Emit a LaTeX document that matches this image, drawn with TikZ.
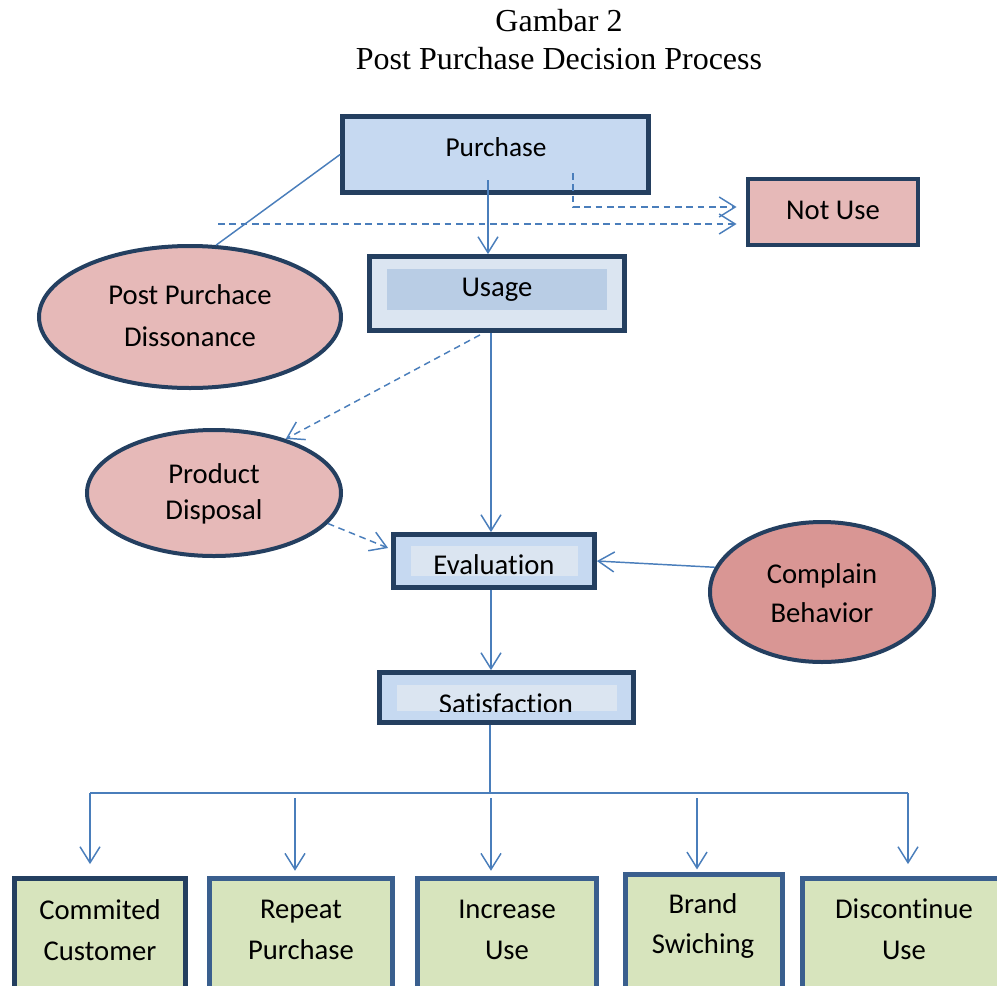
\documentclass[tikz,border=0pt]{standalone}
\usepackage{fontspec}
\setmainfont{Liberation Serif}
\newfontfamily\boxfont[Ligatures=NoCommon]{Carlito}
\usetikzlibrary{arrows.meta,shapes.geometric,calc}
\definecolor{lineblue}{HTML}{4A7EBB}
\definecolor{darkborder}{HTML}{243F60}
\definecolor{midborder}{HTML}{3A5F8E}
\definecolor{bluefill}{HTML}{C6D9F1}
\definecolor{palefill}{HTML}{DBE5F1}
\definecolor{deepfill}{HTML}{B9CDE5}
\definecolor{pinkfill}{HTML}{E6B9B8}
\definecolor{rosefill}{HTML}{D99694}
\definecolor{greenfill}{HTML}{D7E4BD}
\begin{document}
\begin{tikzpicture}[x=0.75pt,y=-0.75pt,
  titletext/.style={font=\fontsize{24}{28}\selectfont, inner sep=0pt},
  lbl/.style={font=\boxfont\fontsize{21.5}{30.5}\selectfont, align=center, inner sep=0pt},
  mainbox/.style={draw=darkborder, line width=3.6pt, rectangle, inner sep=0pt},
  innerbox/.style={rectangle, inner sep=0pt, draw=none},
  oval/.style={draw=darkborder, line width=3pt, ellipse, inner sep=0pt, fill=pinkfill},
  endbox/.style={draw=midborder, line width=3.6pt, rectangle, inner sep=0pt, fill=greenfill},
  conn/.style={draw=lineblue, line width=1.1pt},
  arr/.style={conn, -{Straight Barb[length=12pt,width=15pt,line width=1.1pt]}},
  dasharr/.style={arr, dash pattern=on 5pt off 3.5pt}
]
\useasboundingbox (0,0) rectangle (997,986);
\clip (0,0) rectangle (997,986);

% title
\node[titletext] (t1) at (559,21) {Gambar 2};
\node[titletext] (t2) at (559,59) {Post Purchase Decision Process};

% Purchase
\node[mainbox, fill=bluefill, minimum width=306*0.75pt, minimum height=76*0.75pt] (purchase) at (495.5,154.5) {};
\node[lbl, font=\boxfont\fontsize{20.5}{28}\selectfont] (purchasetxt) at (496,147) {Purchase};

% Not Use
\node[mainbox, line width=3.2pt, fill=pinkfill, minimum width=170*0.75pt, minimum height=66*0.75pt] (notuse) at (833,212) {};
\node[lbl] (notusetxt) at (833,210) {Not Use};

% Usage
\node[mainbox, fill=palefill, minimum width=255*0.75pt, minimum height=74*0.75pt] (usage) at (497,293.5) {};
\node[innerbox, fill=deepfill, minimum width=220*0.75pt, minimum height=41*0.75pt] (usagein) at (497,289.5) {};
\node[lbl] (usagetxt) at (497,290) {Usage};

% Post Purchace Dissonance
\node[oval, minimum width=302*0.75pt, minimum height=142*0.75pt] (ppd) at (190,317) {};
\node[lbl, font=\boxfont\fontsize{21.5}{31.5}\selectfont] (ppdtxt) at (190,316) {Post Purchace\\Dissonance};

% Product Disposal
\node[oval, minimum width=254*0.75pt, minimum height=126*0.75pt] (pd) at (214,493) {};
\node[lbl, font=\boxfont\fontsize{21.5}{26.5}\selectfont] (pdtxt) at (214,494) {Product\\Disposal};

% Evaluation
\node[mainbox, fill=bluefill, minimum width=201*0.75pt, minimum height=53*0.75pt] (eval) at (494,561) {};
\node[innerbox, fill=palefill, minimum width=167*0.75pt, minimum height=30*0.75pt] (evalin) at (494.5,561) {};
\node[lbl] (evaltxt) at (494,565) {Evaluation};

% Complain Behavior
\node[oval, fill=rosefill, minimum width=224*0.75pt, minimum height=140*0.75pt] (cb) at (822,592) {};
\node[lbl, font=\boxfont\fontsize{21.5}{29.5}\selectfont] (cbtxt) at (822,593) {Complain\\Behavior};

% Satisfaction
\node[mainbox, fill=bluefill, minimum width=254*0.75pt, minimum height=50*0.75pt] (sat) at (506.5,697.5) {};
\node[innerbox, fill=palefill, minimum width=220*0.75pt, minimum height=26*0.75pt] (satin) at (507,698) {};
\begin{scope}
  \clip (satin.north west) rectangle (satin.south east);
  \node[lbl] (sattxt) at (506,704) {Satisfaction};
\end{scope}

% bottom boxes
\node[endbox, draw=darkborder, minimum width=171*0.75pt, minimum height=132*0.75pt] (cc) at (100,944.5) {};
\node[lbl] (cctxt) at (100,930) {Commited\\Customer};
\node[endbox, minimum width=183*0.75pt, minimum height=132*0.75pt] (rp) at (301,944.5) {};
\node[lbl] (rptxt) at (301,930) {Repeat\\Purchase};
\node[endbox, minimum width=179*0.75pt, minimum height=132*0.75pt] (iu) at (507,944.5) {};
\node[lbl] (iutxt) at (507,930) {Increase\\Use};
\node[endbox, minimum width=157*0.75pt, minimum height=136*0.75pt] (bs) at (704,942.5) {};
\node[lbl] (bstxt) at (703,926) {Brand\\Swiching};
\node[endbox, minimum width=203*0.75pt, minimum height=132*0.75pt] (du) at (904,944.5) {};
\node[lbl] (dutxt) at (904,929) {Discontinue\\Use};

% coordinates
\coordinate (pu1) at (488,180);
\coordinate (d1) at (218,224);
\coordinate (d2) at (573,173);
\coordinate (xa) at (491,0);
\coordinate (jn) at (490,793);
\coordinate (hl) at (90,793);
\coordinate (hr) at (908,793);
\coordinate (b2) at (295,798);
\coordinate (b3) at (491,798);
\coordinate (b4) at (697,798);

% connectors
\draw[arr] (pu1) -- (pu1 |- usage.north);
\draw[conn] (purchase.west) -- (ppd.70);
\draw[dasharr, shorten >=7pt] (d1) -- (d1 -| notuse.west);
\draw[dasharr, shorten >=7pt] (d2) |- ($(notuse.west)+(0,-5)$);
\draw[dasharr] ($(usage.south)+(-17,2)$) -- (pd.37);
\draw[arr] (usage.south -| xa) -- (eval.north -| xa);
\draw[dasharr] (pd.-15) -- ($(eval.west)+(-3,-13)$);
\draw[arr] (cb.167) -- (eval.east);
\draw[arr] (eval.south -| xa) -- (sat.north -| xa);
\draw[conn] (sat.south -| jn) -- (jn);
\draw[conn] (hl) -- (hr);
\draw[arr, shorten >=9pt] (hl) -- (hl |- cc.north);
\draw[arr, shorten >=9pt] (hr) -- (hr |- du.north);
\draw[arr, shorten >=4pt] (b2) -- (b2 |- rp.north);
\draw[arr, shorten >=4pt] (b3) -- (b3 |- iu.north);
\draw[arr, shorten >=2pt] (b4) -- (b4 |- bs.north);
\end{tikzpicture}
\end{document}
